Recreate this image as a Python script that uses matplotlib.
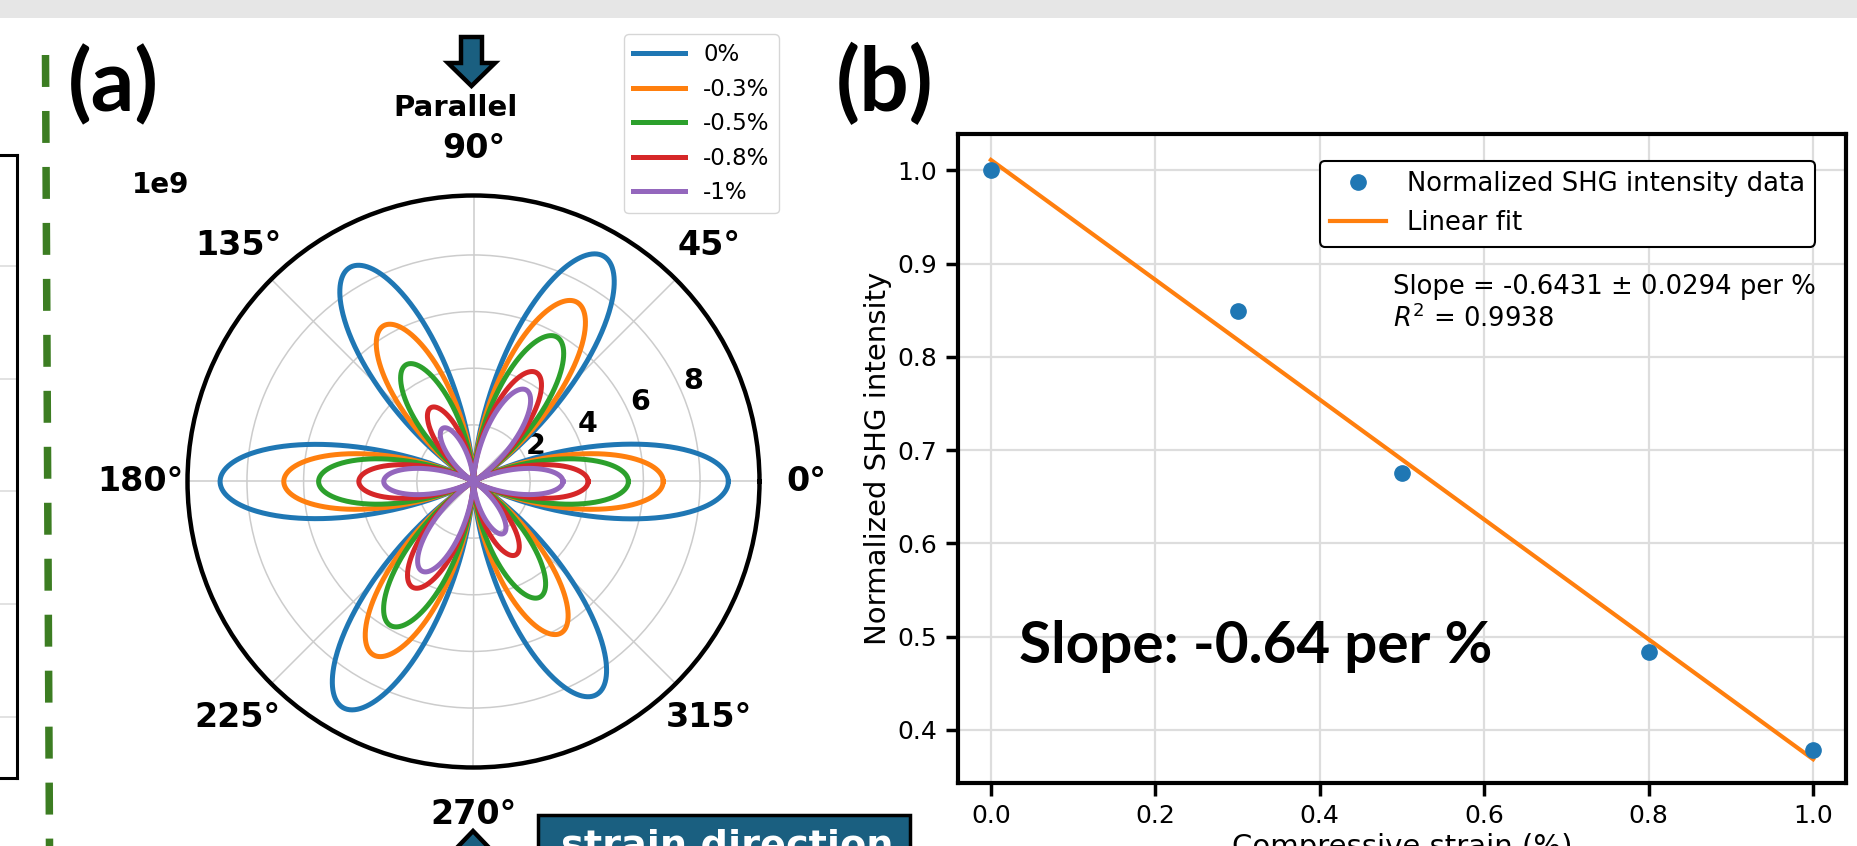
import numpy as np
import matplotlib
matplotlib.use('Agg')
import matplotlib.pyplot as plt
from matplotlib.patches import Polygon, Rectangle
from matplotlib.lines import Line2D

# ---------------- data ----------------
strain_labels = ['0%', '-0.3%', '-0.5%', '-0.8%', '-1%']
curve_colors = ['#1f77b4', '#ff7f0e', '#2ca02c', '#d62728', '#9467bd']
lobe_angles_deg = [0, 60, 120, 180, 240, 300]
# lobe peak intensities (x1e9) for each strain, per lobe direction (0,60,...,300 deg)
lobe_amp_0 = [9.00, 9.19, 8.73, 8.95, 9.22, 8.69]
lobe_amp_03 = [6.70, 7.31, 6.35, 6.70, 7.07, 6.18]
lobe_amp_05 = [5.47, 5.89, 4.76, 5.47, 5.87, 4.71]
lobe_amp_08 = [4.05, 4.44, 3.01, 4.05, 4.31, 2.99]
lobe_amp_1 = [3.16, 3.73, 2.17, 3.17, 3.65, 2.12]
lobe_sharpness = 1.7
r_ticks = [2, 4, 6, 8]
r_max = 10.1
theta_tick_deg = [0, 45, 90, 135, 180, 225, 270, 315]

strain_pct = [0.0, 0.3, 0.5, 0.8, 1.0]
norm_intensity = [1.0, 0.849, 0.675, 0.483, 0.378]
x_ticks_b = [0.0, 0.2, 0.4, 0.6, 0.8, 1.0]
y_ticks_b = [0.4, 0.5, 0.6, 0.7, 0.8, 0.9, 1.0]

# ---------------- figure ----------------
W, H = 1857, 846
DPI = 100
plt.rcParams['lines.scale_dashes'] = False
fig = plt.figure(figsize=(W / DPI, H / DPI), dpi=DPI)
fig.patch.set_facecolor('white')


def fx(x):
    return x / W


def fy(y):
    return 1 - y / H


# grey band at top
fig.patches.append(Rectangle((0, fy(18)), 1, 18 / H, transform=fig.transFigure,
                             facecolor='#e6e6e6', edgecolor='none', zorder=0))

# partial neighbouring panel at far left
ax0 = fig.add_axes([fx(-100), fy(778), 117 / W, (778 - 155) / H])
ax0.set_xlim(0, 1)
ax0.set_ylim(778, 155)
ax0.set_xticks([])
ax0.set_yticks([266, 379, 491, 604, 717])
ax0.tick_params(axis='y', length=0, labelleft=False)
ax0.grid(True, axis='y', color='#dddddd', lw=1.2)
for s in ax0.spines.values():
    s.set_linewidth(2.2)

# green dashed separator
sep = Line2D([fx(45.5), fx(49.5)], [fy(55), fy(846)], transform=fig.transFigure,
             color='#3c7d22', lw=5.4, solid_capstyle='butt', dash_capstyle='butt',
             linestyle=(0, (23.0, 17.3)))
fig.lines.append(sep)

# ---------------- panel (a): polar ----------------
axp = fig.add_axes([fx(187.5), fy(767.5), 572 / W, 572 / H], projection='polar')
theta = np.linspace(0, 2 * np.pi, 2161)
lobe_sets = [lobe_amp_0, lobe_amp_03, lobe_amp_05, lobe_amp_08, lobe_amp_1]
lobe_idx = np.round(theta / (np.pi / 3)).astype(int) % 6
for amps, lab, col in zip(lobe_sets, strain_labels, curve_colors):
    r = np.asarray(amps)[lobe_idx] * np.abs(np.cos(3 * theta)) ** lobe_sharpness
    axp.plot(theta, r, color=col, lw=3.6, label=lab)
axp.set_rmin(0)
axp.set_rmax(r_max)
axp.set_rticks(r_ticks)
axp.set_rlabel_position(22.5)
axp.set_thetagrids(theta_tick_deg, labels=[f'{a}°' for a in theta_tick_deg])
for t in axp.get_xticklabels():
    t.set_fontsize(24)
    t.set_fontweight('bold')
for t in axp.get_yticklabels():
    t.set_fontsize(20.5)
    t.set_fontweight('bold')
axp.tick_params(axis='x', pad=23.5)
axp.grid(True, color='#cccccc', lw=1.1)
axp.spines['polar'].set_linewidth(3.2)
leg_a = axp.legend(loc='upper left', bbox_to_anchor=(fx(624), fy(34)),
                   bbox_transform=fig.transFigure, borderaxespad=0,
                   fontsize=16.5, handlelength=2.25)

fig.text(fx(132), fy(193), '1e9', fontsize=20, fontweight='bold', ha='left', va='baseline')
fig.text(fx(456), fy(116), 'Parallel', fontsize=21, fontweight='bold', ha='center', va='baseline')

arrow_face = '#1a5f80'
down_arrow = [(461, 37), (482, 37), (482, 63), (495, 63), (471.5, 86), (448, 63), (461, 63)]
fig.patches.append(Polygon([(fx(x), fy(y)) for x, y in down_arrow], closed=True,
                           transform=fig.transFigure, facecolor=arrow_face,
                           edgecolor='black', lw=3.2, joinstyle='miter', zorder=5))
up_arrow = [(473, 831), (497, 856), (485, 856), (485, 880), (461, 880), (461, 856), (449, 856)]
fig.patches.append(Polygon([(fx(x), fy(y)) for x, y in up_arrow], closed=True,
                           transform=fig.transFigure, facecolor=arrow_face,
                           edgecolor='black', lw=3.2, joinstyle='miter', zorder=5))

fig.patches.append(Rectangle((fx(538), fy(900)), (910 - 538) / W, (900 - 815) / H,
                             transform=fig.transFigure, facecolor=arrow_face,
                             edgecolor='black', lw=2.5, zorder=5))
fig.text(fx(727), fy(856.5), 'strain direction', fontsize=27.5, fontweight='bold',
         color='white', ha='center', va='baseline', zorder=6)

fig.text(fx(68), fy(111), '(a)', fontsize=62, fontweight='bold', family=['Lato', 'DejaVu Sans'],
         ha='left', va='baseline')

# ---------------- panel (b): linear fit ----------------
axb = fig.add_axes([fx(958), fy(783), 888 / W, (783 - 134) / H])
axb.plot(strain_pct, norm_intensity, 'o', color='#1f77b4', ms=11, zorder=3,
         label='Normalized SHG intensity data')
slope, intercept = np.polyfit(strain_pct, norm_intensity, 1)
xfit = np.array([min(strain_pct), max(strain_pct)])
axb.plot(xfit, slope * xfit + intercept, color='#ff7f0e', lw=3, zorder=2, label='Linear fit')
axb.set_xlim(-0.04, 1.04)
axb.set_ylim(0.343, 1.039)
axb.set_xticks(x_ticks_b)
axb.set_yticks(y_ticks_b)
axb.grid(True, color='#dddddd', lw=1.6)
axb.set_axisbelow(True)
axb.tick_params(labelsize=18, length=9, width=2.5, pad=6)
for s in axb.spines.values():
    s.set_linewidth(3)
axb.set_xlabel('Compressive strain (%)', fontsize=21)
axb.set_ylabel('Normalized SHG intensity', fontsize=21)
leg_b = axb.legend(loc='upper right', bbox_to_anchor=(fx(1815), fy(161)),
                   bbox_transform=fig.transFigure, borderaxespad=0, fontsize=18.6,
                   handlelength=2.15, framealpha=1, edgecolor='black', fancybox=True)
leg_b.get_frame().set_linewidth(1.5)
axb.text((1393 - 958) / 888, (783 - 274) / 649,
         'Slope = -0.6431 ± 0.0294 per %\n$R^2$ = 0.9938',
         transform=axb.transAxes, fontsize=18.6, ha='left', va='top')

fig.text(fx(1019), fy(663), 'Slope: -0.64 per %', fontsize=42, fontweight='bold',
         family=['Lato', 'DejaVu Sans'], ha='left', va='baseline')
fig.text(fx(836), fy(111), '(b)', fontsize=63, fontweight='bold', family=['Lato', 'DejaVu Sans'],
         ha='left', va='baseline')

fig.savefig('out.png', dpi=DPI, facecolor='white')
